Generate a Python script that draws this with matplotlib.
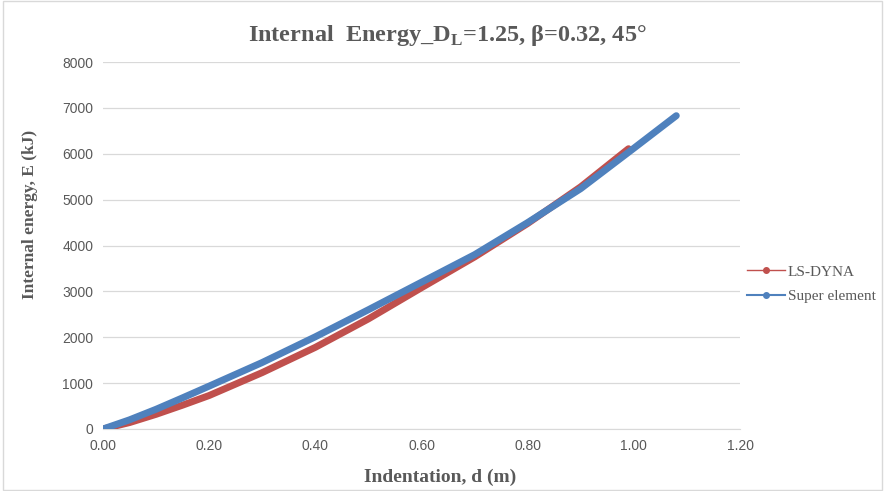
import matplotlib.pyplot as plt
from matplotlib.lines import Line2D
from matplotlib.patches import Rectangle

# LS-DYNA results
dyna_d = [0.0, 0.05, 0.10, 0.15, 0.20, 0.30, 0.40, 0.50, 0.60, 0.70, 0.80, 0.90, 0.99]
dyna_e = [0, 140, 320, 520, 730, 1230, 1780, 2400, 3080, 3750, 4480, 5280, 6110]

# super element results
super_d = [0.0, 0.05, 0.10, 0.15, 0.20, 0.30, 0.40, 0.50, 0.60, 0.70, 0.80, 0.90, 1.00, 1.08]
super_e = [0, 200, 430, 680, 935, 1450, 2010, 2600, 3200, 3800, 4500, 5240, 6120, 6830]

x_ticks = [0.0, 0.2, 0.4, 0.6, 0.8, 1.0, 1.2]
y_ticks = [0, 1000, 2000, 3000, 4000, 5000, 6000, 7000, 8000]

red = "#C0504D"
blue = "#4F81BD"
gray = "#595959"
serif = "Liberation Serif"
sans = "Liberation Sans"

fig = plt.figure(figsize=(8.85, 4.91), dpi=100)
ax = fig.add_axes([103 / 885, 1 - 429 / 491, 637 / 885, 367 / 491])

ax.plot(dyna_d, dyna_e, color=red, lw=5, solid_capstyle="round", zorder=3)
ax.plot(super_d, super_e, color=blue, lw=5, solid_capstyle="round", zorder=4)

ax.set_xlim(0, 1.2)
ax.set_ylim(0, 8000)
ax.set_xticks(x_ticks)
ax.set_yticks(y_ticks)
ax.set_xticklabels([f"{v:.2f}" for v in x_ticks])
ax.set_yticklabels([str(v) for v in y_ticks])
ax.tick_params(length=0, labelsize=10, labelcolor=gray, pad=7)
for lab in ax.get_xticklabels() + ax.get_yticklabels():
    lab.set_family(sans)
ax.grid(axis="y", color="#D9D9D9", lw=0.9)
ax.set_axisbelow(True)
for s in ["top", "right", "left"]:
    ax.spines[s].set_visible(False)
ax.spines["bottom"].set_color("#D9D9D9")

fig.text(447 / 885, 1 - 36 / 491,
         r"Internal  Energy_D$_\mathregular{L}$=1.25, β=0.32, 45°",
         ha="center", va="center", fontsize=17.5, fontweight="bold",
         family=serif, color=gray)
fig.text(440 / 885, 1 - 477 / 491, "Indentation, d (m)", ha="center", va="center",
         fontsize=14, fontweight="bold", family=serif, color=gray)
fig.text(30 / 885, 1 - 214 / 491, "Internal energy, E (kJ)", ha="center", va="center",
         rotation=90, fontsize=12.5, fontweight="bold", family=serif, color=gray)

handles = [
    Line2D([], [], color=red, lw=1, marker="o", ms=4),
    Line2D([], [], color=blue, lw=1.5, marker="o", ms=4),
]
leg = fig.legend(handles, ["LS-DYNA", "Super element"], loc="center left",
                 bbox_to_anchor=(733 / 885, 1 - 284 / 491), frameon=False,
                 prop={"family": serif, "size": 11}, handlelength=2.5,
                 labelspacing=0.7, handletextpad=0.2)
for t in leg.get_texts():
    t.set_color(gray)

fig.patches.append(Rectangle((0.003, 0.003), 0.994, 0.994, transform=fig.transFigure,
                             fill=False, ec="#D9D9D9", lw=1))

fig.savefig("out.png", dpi=100)
